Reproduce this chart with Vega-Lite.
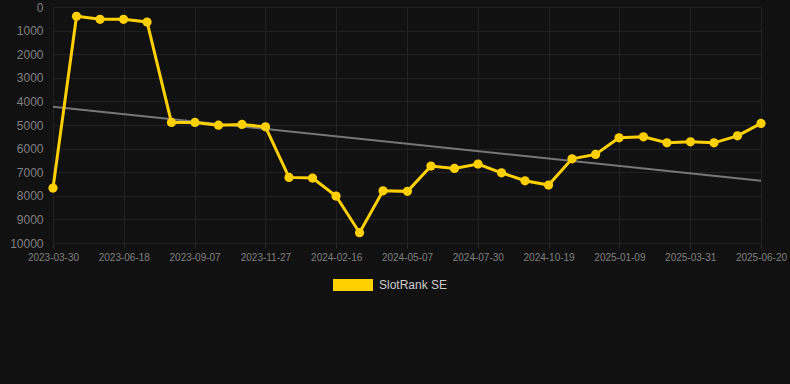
{
  "$schema": "https://vega.github.io/schema/vega-lite/v6.json",
  "width": 708,
  "height": 236,
  "autosize": {"type": "none"},
  "padding": {"left": 53, "top": 7, "right": 29, "bottom": 141},
  "background": "#111111",
  "config": {
    "view": {"stroke": null},
    "font": "Liberation Sans",
    "axis": {"gridColor": "#212121", "gridWidth": 1, "domain": false, "labelColor": "#808080", "labelFont": "Liberation Sans"}
  },
  "datasets": {
    "ranks": [
      {"date": "2023-03-30", "rank": 7672, "series": "SlotRank SE"},
      {"date": "2023-04-26", "rank": 394, "series": "SlotRank SE"},
      {"date": "2023-05-23", "rank": 520, "series": "SlotRank SE"},
      {"date": "2023-06-19", "rank": 520, "series": "SlotRank SE"},
      {"date": "2023-07-16", "rank": 635, "series": "SlotRank SE"},
      {"date": "2023-08-13", "rank": 4892, "series": "SlotRank SE"},
      {"date": "2023-09-09", "rank": 4892, "series": "SlotRank SE"},
      {"date": "2023-10-06", "rank": 5006, "series": "SlotRank SE"},
      {"date": "2023-11-02", "rank": 4977, "series": "SlotRank SE"},
      {"date": "2023-11-29", "rank": 5078, "series": "SlotRank SE"},
      {"date": "2023-12-26", "rank": 7220, "series": "SlotRank SE"},
      {"date": "2024-01-22", "rank": 7250, "series": "SlotRank SE"},
      {"date": "2024-02-18", "rank": 8011, "series": "SlotRank SE"},
      {"date": "2024-03-16", "rank": 9564, "series": "SlotRank SE"},
      {"date": "2024-04-12", "rank": 7787, "series": "SlotRank SE"},
      {"date": "2024-05-10", "rank": 7812, "series": "SlotRank SE"},
      {"date": "2024-06-06", "rank": 6741, "series": "SlotRank SE"},
      {"date": "2024-07-03", "rank": 6839, "series": "SlotRank SE"},
      {"date": "2024-07-30", "rank": 6657, "series": "SlotRank SE"},
      {"date": "2024-08-26", "rank": 7025, "series": "SlotRank SE"},
      {"date": "2024-09-22", "rank": 7364, "series": "SlotRank SE"},
      {"date": "2024-10-19", "rank": 7546, "series": "SlotRank SE"},
      {"date": "2024-11-15", "rank": 6432, "series": "SlotRank SE"},
      {"date": "2024-12-12", "rank": 6246, "series": "SlotRank SE"},
      {"date": "2025-01-08", "rank": 5544, "series": "SlotRank SE"},
      {"date": "2025-02-05", "rank": 5501, "series": "SlotRank SE"},
      {"date": "2025-03-04", "rank": 5755, "series": "SlotRank SE"},
      {"date": "2025-03-31", "rank": 5713, "series": "SlotRank SE"},
      {"date": "2025-04-27", "rank": 5755, "series": "SlotRank SE"},
      {"date": "2025-05-24", "rank": 5459, "series": "SlotRank SE"},
      {"date": "2025-06-20", "rank": 4934, "series": "SlotRank SE"}
    ],
    "trend": [
      {"date": "2023-03-30", "rank": 4230},
      {"date": "2025-06-20", "rank": 7360}
    ]
  },
  "encoding": {
    "x": {
      "field": "date",
      "type": "temporal",
      "scale": {
        "type": "utc",
        "domain": [
          {"year": 2023, "month": 3, "date": 30, "utc": true},
          {"year": 2025, "month": 6, "date": 20, "utc": true}
        ]
      },
      "axis": {
        "title": null,
        "values": [
          {"year": 2023, "month": 3, "date": 30, "utc": true},
          {"year": 2023, "month": 6, "date": 19, "hours": 7, "minutes": 12, "utc": true},
          {"year": 2023, "month": 9, "date": 8, "hours": 14, "minutes": 24, "utc": true},
          {"year": 2023, "month": 11, "date": 28, "hours": 21, "minutes": 36, "utc": true},
          {"year": 2024, "month": 2, "date": 18, "hours": 4, "minutes": 48, "utc": true},
          {"year": 2024, "month": 5, "date": 9, "hours": 12, "utc": true},
          {"year": 2024, "month": 7, "date": 29, "hours": 19, "minutes": 12, "utc": true},
          {"year": 2024, "month": 10, "date": 19, "hours": 2, "minutes": 24, "utc": true},
          {"year": 2025, "month": 1, "date": 8, "hours": 9, "minutes": 36, "utc": true},
          {"year": 2025, "month": 3, "date": 30, "hours": 16, "minutes": 48, "utc": true},
          {"year": 2025, "month": 6, "date": 20, "utc": true}
        ],
        "labelExpr": "['2023-03-30','2023-06-18','2023-09-07','2023-11-27','2024-02-16','2024-05-07','2024-07-30','2024-10-19','2025-01-09','2025-03-31','2025-06-20'][round(datum.index*10)]",
        "labelFontSize": 10,
        "labelPadding": 4,
        "tickSize": 5,
        "tickColor": "#2a2a2a",
        "labelFlush": false,
        "labelOverlap": false
      }
    },
    "y": {
      "field": "rank",
      "type": "quantitative",
      "scale": {"domain": [0, 10000], "reverse": true, "nice": false, "zero": false},
      "axis": {
        "title": null,
        "values": [0, 1000, 2000, 3000, 4000, 5000, 6000, 7000, 8000, 9000, 10000],
        "labelFontSize": 12,
        "ticks": false,
        "labelPadding": 10,
        "format": "d"
      }
    }
  },
  "layer": [
    {
      "data": {"name": "trend"},
      "mark": {"type": "line", "color": "#777777", "strokeWidth": 2}
    },
    {
      "data": {"name": "ranks"},
      "mark": {"type": "line", "color": "#ffd000", "strokeWidth": 3}
    },
    {
      "data": {"name": "ranks"},
      "mark": {"type": "point", "filled": true, "opacity": 1, "size": 85},
      "encoding": {
        "color": {
          "field": "series",
          "type": "nominal",
          "scale": {"range": ["#ffd000"]},
          "legend": {
            "title": null,
            "orient": "none",
            "legendX": 280,
            "legendY": 258,
            "padding": 0,
            "symbolType": "M-1,-0.3L1,-0.3L1,0.3L-1,0.3Z",
            "symbolSize": 1600,
            "symbolStrokeWidth": 0,
            "symbolOpacity": 1,
            "labelFontSize": 12,
            "labelColor": "#cccccc",
            "labelOffset": 6,
            "labelFont": "Liberation Sans"
          }
        }
      }
    }
  ]
}
